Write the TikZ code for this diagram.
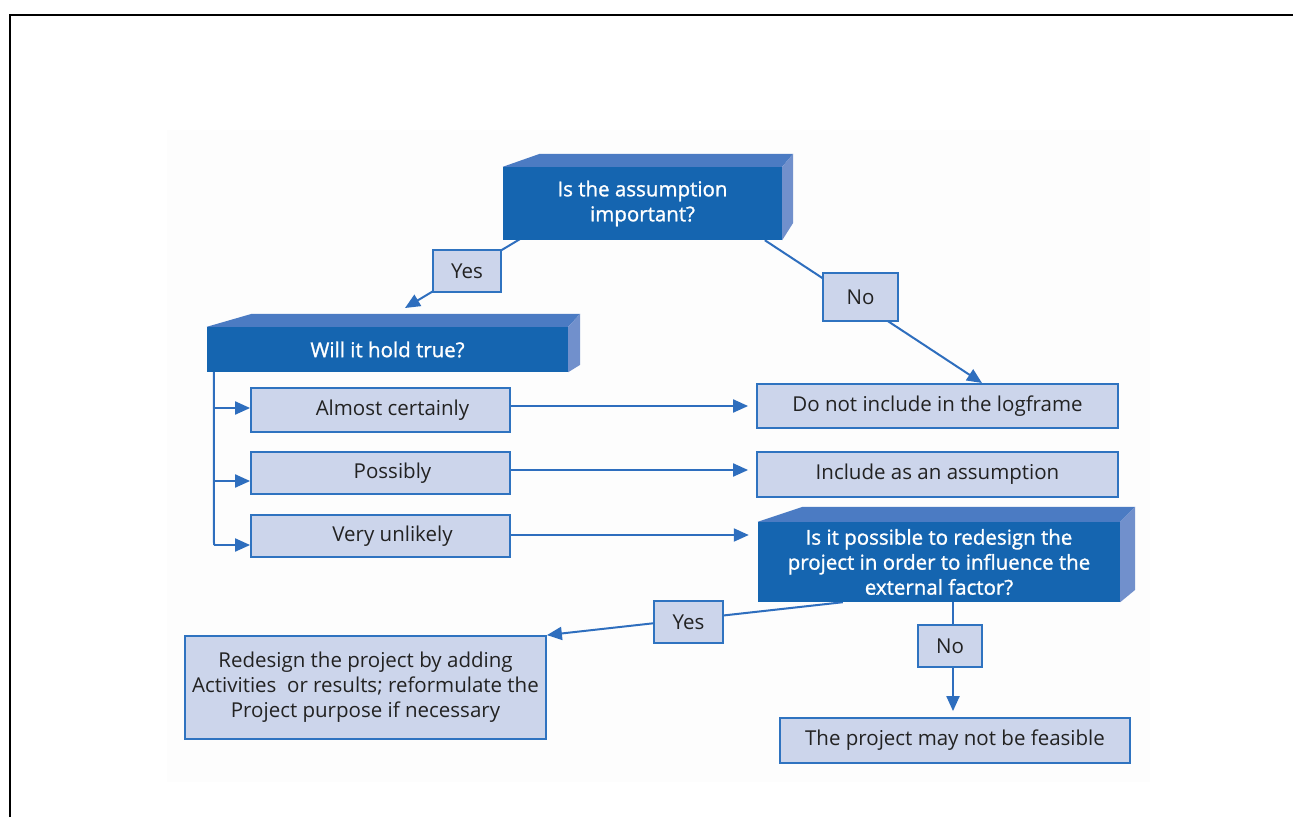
\documentclass[tikz,border=0pt]{standalone}
\usepackage{fontspec}
\setmainfont{Open Sans}
\newfontfamily\questionfont{Open Sans}[FakeBold=1.2]
\usetikzlibrary{arrows.meta,calc,backgrounds}

\definecolor{qfront}{HTML}{1565B0}
\definecolor{qtop}{HTML}{4B7BC3}
\definecolor{qside}{HTML}{7190CC}
\definecolor{optfill}{HTML}{CCD5EB}
\definecolor{optline}{HTML}{2F73C0}
\definecolor{wire}{HTML}{2E6EBE}
\definecolor{ink}{HTML}{222222}
\definecolor{backdrop}{HTML}{FDFDFD}

\begin{document}
\begin{tikzpicture}[x=1pt,y=-1pt,
  txt/.style={font=\fontsize{20.5}{25}\selectfont},
  question/.style={font=\questionfont\fontsize{20.5}{25}\selectfont,
                   fill=qfront, text=white, align=center, inner sep=0pt},
  option/.style={txt, draw=optline, line width=1.8pt, fill=optfill, text=ink,
                 align=center, inner sep=0pt},
  tag/.style={option},
  link/.style={draw=wire, line width=2pt},
  arrow/.style={link, -{Triangle[length=15pt,width=13pt]}},
]
\useasboundingbox (0,0) rectangle (1293,817);

% page frame
\draw[line width=2pt] (10,817) -- (10,15) -- (1293,15);

% decision boxes (front faces)
\node[question, minimum width=279pt, minimum height=73pt] (q1) at (642.5,203.5)
  {Is the assumption\\important?};
\node[question, minimum width=361pt, minimum height=45pt] (will) at (387.5,349.5)
  {Will it hold true?};
\node[question, minimum width=362pt, minimum height=80pt] (possible) at (939,562)
  {Is it possible to redesign the\\project in order to influence the\\external factor?};

% top and side faces of the decision boxes
\fill[qtop] (q1.north west) -- ++(37,-13) -- ($(q1.north east)+(11,-13)$) -- (q1.north east) -- cycle;
\fill[qside] (q1.north east) -- ++(11,-13) -- ++(0,69) -- (q1.south east) -- cycle;
\fill[qtop] (will.north west) -- ++(45,-13) -- ($(will.north east)+(12,-13)$) -- (will.north east) -- cycle;
\fill[qside] (will.north east) -- ++(12,-13) -- ++(0,51) -- (will.south east) -- cycle;
\fill[qtop] (possible.north west) -- ++(45,-15) -- ($(possible.north east)+(15,-15)$) -- (possible.north east) -- cycle;
\fill[qside] (possible.north east) -- ++(15,-15) -- ++(0,83) -- (possible.south east) -- cycle;

% answer boxes
\node[option, minimum width=259pt, minimum height=44pt] (almost) at (380.5,410)
  {\hspace*{24pt}Almost certainly};
\node[option, minimum width=259pt, minimum height=42pt] (possibly) at (380.5,473)
  {\hspace*{24pt}Possibly};
\node[option, minimum width=259pt, minimum height=42pt] (unlikely) at (380.5,536)
  {\hspace*{24pt}Very unlikely};

% outcome boxes
\node[option, minimum width=361pt, minimum height=44pt] (exclude) at (937.5,406)
  {Do not include in the logframe};
\node[option, minimum width=361pt, minimum height=45pt] (include) at (937.5,474.5)
  {Include as an assumption};
\node[option, minimum width=361pt, minimum height=103pt] (redesign) at (365.5,687.5)
  {Redesign the project by adding\\Activities\ \ or results; reformulate the\\Project purpose if necessary};
\node[option, minimum width=350pt, minimum height=45pt] (feasible) at (955,740.5)
  {The project may not be feasible};

% connection points
\coordinate (yesfrom) at ($(q1.south west)+(42,-16)$);
\coordinate (yesto) at (405,308);
\coordinate (nofrom) at ($(q1.south west)+(262,0)$);
\coordinate (noto) at (982,383);
\coordinate (trunktop) at ($(will.south west)+(7,0)$);
\coordinate (trunkbot) at (214,545);
\coordinate (redfrom) at ($(possible.south west)+(85,0)$);

\begin{scope}[on background layer]
  \fill[backdrop] (167,130) rectangle (1150,782);
  % Yes / No from the first question
  \draw[arrow] (yesfrom) -- (yesto);
  \draw[arrow] (nofrom) -- (noto);
  % branches of "Will it hold true?"
  \draw[link] (trunktop) -- (trunkbot);
  \draw[arrow] (trunkbot |- 0,408) -- (almost.west |- 0,408);
  \draw[arrow] (trunkbot |- 0,481) -- (possibly.west |- 0,481);
  \draw[arrow] (trunkbot) -- (unlikely.west |- 0,545);
  % answers to outcomes
  \draw[arrow, shorten >=8pt] (almost.east |- 0,406) -- (exclude.west |- 0,406);
  \draw[arrow, shorten >=8pt] (possibly.east |- 0,470) -- (include.west |- 0,470);
  \draw[arrow, shorten >=9pt] (unlikely.east |- 0,535) -- (possible.west |- 0,535);
  % Yes / No from the redesign question
  \draw[arrow] (redfrom) -- (redesign.north east);
  \draw[arrow, shorten >=6pt] (possible.south -| 953,0) -- (feasible.north -| 953,0);
\end{scope}

% labels on the connectors
\node[tag, minimum width=68pt, minimum height=42pt] (yes1) at (467,271) {Yes};
\node[tag, minimum width=75pt, minimum height=48pt] (no1) at (860.5,297) {No};
\node[tag, minimum width=69pt, minimum height=42pt] (yes2) at (688.5,622) {Yes};
\node[tag, minimum width=64pt, minimum height=42pt] (no2) at (950,646) {No};
\end{tikzpicture}
\end{document}
